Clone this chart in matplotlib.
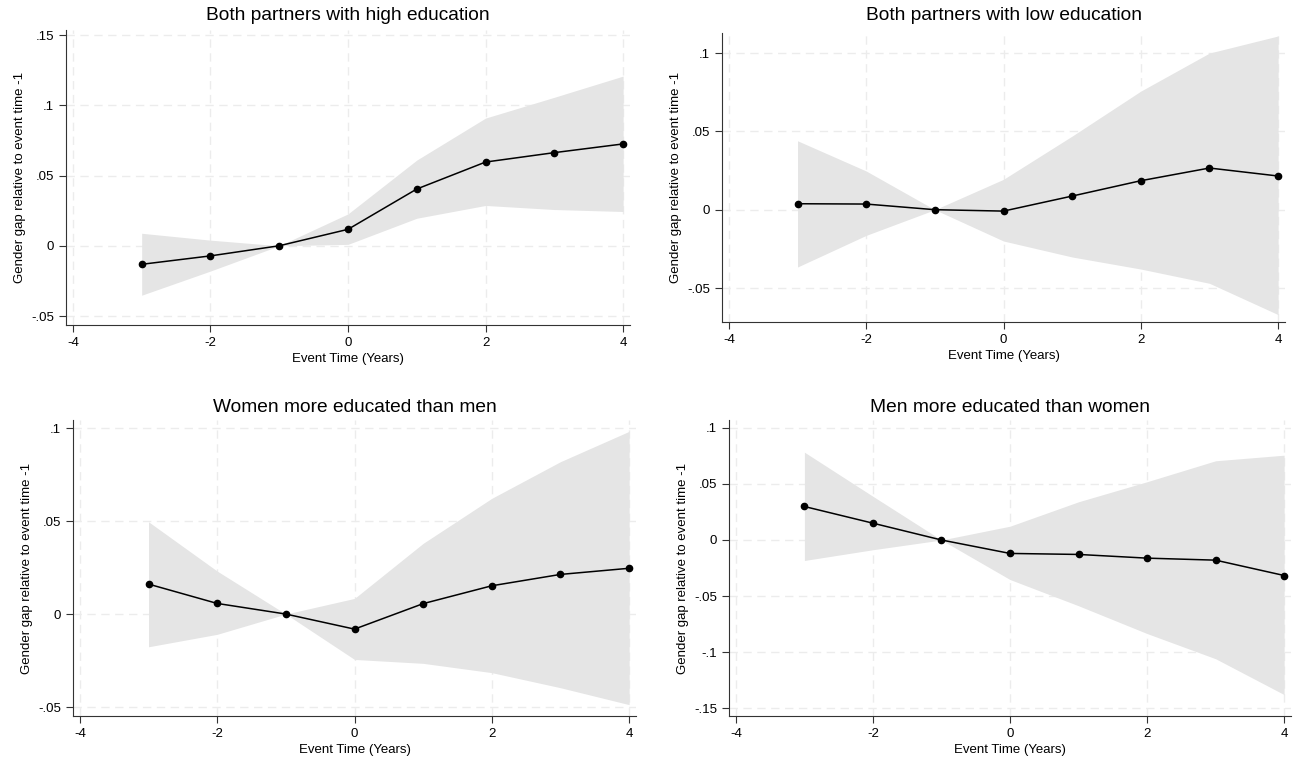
import numpy as np
import matplotlib.pyplot as plt

plt.rcParams['font.family'] = ['Liberation Sans', 'DejaVu Sans']

# event time
t = [-3, -2, -1, 0, 1, 2, 3, 4]

titles = ["Both partners with high education",
          "Both partners with low education",
          "Women more educated than men",
          "Men more educated than women"]

# point estimates
est_high = [-0.0132, -0.0072, 0.0, 0.0117, 0.0404, 0.0596, 0.0663, 0.0725]
est_low = [0.0038, 0.0036, 0.0, -0.0009, 0.0087, 0.0185, 0.0266, 0.0215]
est_women = [0.0161, 0.0057, 0.0, -0.0081, 0.0056, 0.0152, 0.0213, 0.0246]
est_men = [0.0299, 0.0150, 0.0, -0.0120, -0.0129, -0.0162, -0.0180, -0.0317]

# confidence bands
hi_high = [0.0089, 0.0040, 0.0, 0.0227, 0.0610, 0.0909, 0.1057, 0.1208]
lo_high = [-0.0352, -0.0180, 0.0, 0.0010, 0.0196, 0.0287, 0.0258, 0.0244]
hi_low = [0.0440, 0.0247, 0.0, 0.0194, 0.0470, 0.0757, 0.1000, 0.1109]
lo_low = [-0.0366, -0.0164, 0.0, -0.0200, -0.0302, -0.0379, -0.0470, -0.0670]
hi_women = [0.0496, 0.0231, 0.0, 0.0084, 0.0380, 0.0622, 0.0819, 0.0982]
lo_women = [-0.0176, -0.0109, 0.0, -0.0244, -0.0265, -0.0315, -0.0396, -0.0487]
hi_men = [0.0784, 0.0390, 0.0, 0.0123, 0.0341, 0.0520, 0.0707, 0.0757]
lo_men = [-0.0183, -0.0087, 0.0, -0.0353, -0.0587, -0.0835, -0.1060, -0.1380]

xticks = [-4, -2, 0, 2, 4]
yticks_high = [-0.05, 0, 0.05, 0.1, 0.15]
ylabels_high = ["-.05", "0", ".05", ".1", ".15"]
yticks_low = [-0.05, 0, 0.05, 0.1]
ylabels_low = ["-.05", "0", ".05", ".1"]
yticks_men = [-0.15, -0.1, -0.05, 0, 0.05, 0.1]
ylabels_men = ["-.15", "-.1", "-.05", "0", ".05", ".1"]

panels = [
    (est_high, lo_high, hi_high, yticks_high, ylabels_high, (-0.0564, 0.1536),
     [66/1296, 1-325/760, 564/1296, 295/760], 16),
    (est_low, lo_low, hi_low, yticks_low, ylabels_low, (-0.0717, 0.1128),
     [722/1296, 1-322/760, 563/1296, 289/760], 16),
    (est_women, lo_women, hi_women, yticks_low, ylabels_low, (-0.0548, 0.1043),
     [73/1296, 1-716/760, 563/1296, 296/760], 408),
    (est_men, lo_men, hi_men, yticks_men, ylabels_men, (-0.1571, 0.1071),
     [729/1296, 1-716/760, 562/1296, 296/760], 408),
]

fig = plt.figure(figsize=(12.96, 7.6), dpi=100)

for title, (est, lo, hi, yt, yl, ylim, rect, ty) in zip(titles, panels):
    ax = fig.add_axes(rect)
    ax.fill_between(t, lo, hi, color='#e5e5e5', linewidth=0, zorder=1)
    ax.plot(t, est, color='black', linewidth=1.1, marker='o', markersize=4.5, zorder=3)
    ax.set_xlim(-4.1, 4.1)
    ax.set_ylim(*ylim)
    ax.set_xticks(xticks)
    ax.set_xticklabels([str(v) for v in xticks])
    ax.set_yticks(yt)
    ax.set_yticklabels(yl)
    # stata-like dashed grid
    for v in xticks:
        ax.axvline(v, color='#ececec', linestyle=(0, (6, 4)), linewidth=1, zorder=0)
    for v in yt:
        ax.axhline(v, color='#ececec', linestyle=(0, (6, 4)), linewidth=1, zorder=0)
    ax.spines['right'].set_color('none')
    ax.spines['top'].set_color('none')
    ax.spines['left'].set_color('#333333')
    ax.spines['bottom'].set_color('#333333')
    ax.tick_params(length=5, width=0.8, labelsize=9.5, colors='#333333', labelcolor='black')
    # title centred over the axes, at a fixed height
    fig.text(rect[0] + rect[2] / 2, 1 - ty / 760, title, fontsize=13.8,
             ha='center', va='center')
    ax.set_xlabel("Event Time (Years)", fontsize=9.5, labelpad=3)
    ax.set_ylabel("Gender gap relative to event time -1", fontsize=9.5, labelpad=4)

plt.savefig("out.png", dpi=100)
